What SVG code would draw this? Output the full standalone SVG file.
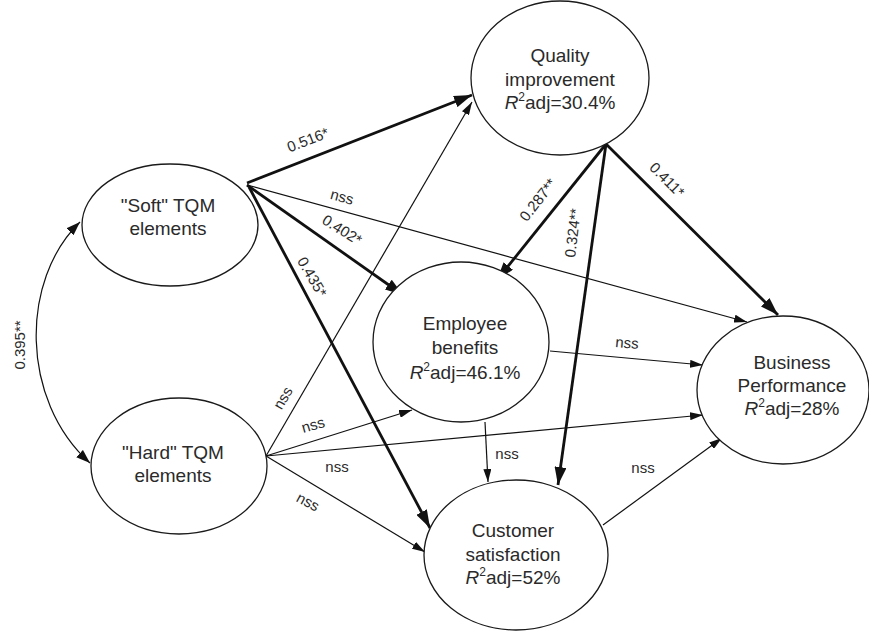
<svg xmlns="http://www.w3.org/2000/svg" width="869" height="631" viewBox="0 0 869 631">
<style>
.node ellipse{fill:#fff;stroke:#1a1a1a;stroke-width:1.3}
.node text{font-family:"Liberation Sans",Arial,sans-serif;font-size:19px;fill:#2a2a2a;text-anchor:middle}
.thick{stroke:#111;stroke-width:2.8;fill:none}
.thin{stroke:#111;stroke-width:1.2;fill:none}
.lbl{font-family:"Liberation Sans",Arial,sans-serif;font-size:15px;fill:#2a2a2a;text-anchor:middle}
</style>
<defs>
<marker id="ah" markerUnits="userSpaceOnUse" markerWidth="18" markerHeight="12" refX="18" refY="6" orient="auto"><path d="M0,0 L18,6 L0,12 z" fill="#111"/></marker>
<marker id="at" markerUnits="userSpaceOnUse" markerWidth="13" markerHeight="8" refX="13" refY="4" orient="auto"><path d="M0,0 L13,4 L0,8 z" fill="#111"/></marker>
<marker id="at2" markerUnits="userSpaceOnUse" markerWidth="14" markerHeight="10" refX="14" refY="5" orient="auto-start-reverse"><path d="M0,0 L14,5 L0,10 z" fill="#111"/></marker>
</defs>
<rect width="869" height="631" fill="#fff"/>
<g id="connectors">
<path class="thin" d="M266,456 L472,102" marker-end="url(#at)"/>
<path class="thin" d="M247,185 L747,322" marker-end="url(#at)"/>
<path class="thin" d="M550,351 L703,365" marker-end="url(#at)"/>
<path class="thin" d="M485,422 L488,482" marker-end="url(#at)"/>
<path class="thin" d="M266,456 L412,410" marker-end="url(#at)"/>
<path class="thin" d="M266,456 L703,415" marker-end="url(#at)"/>
<path class="thin" d="M266,456 L425,552" marker-end="url(#at)"/>
<path class="thin" d="M603,525 L722,438" marker-end="url(#at)"/>
<path class="thin" d="M80,222 C20,280 20,400 90,463" marker-start="url(#at2)" marker-end="url(#at2)"/>
<path class="thick" d="M247,183 L472,95" marker-end="url(#ah)"/>
<path class="thick" d="M247,185 L403,295" marker-end="url(#ah)"/>
<path class="thick" d="M249,187 L430,528" marker-end="url(#ah)"/>
<path class="thick" d="M606,144 L497,280" marker-end="url(#ah)"/>
<path class="thick" d="M606,144 L558,485" marker-end="url(#ah)"/>
<path class="thick" d="M606,144 L778,315" marker-end="url(#ah)"/>
<text class="lbl" transform="translate(20,345) rotate(-90)" y="5">0.395**</text>
<text class="lbl" transform="translate(308,140) rotate(-21)" y="5">0.516*</text>
<text class="lbl" transform="translate(342,197) rotate(15)" y="5">nss</text>
<text class="lbl" transform="translate(342,230) rotate(32)" y="5">0.402*</text>
<text class="lbl" transform="translate(312,277) rotate(60)" y="5">0.435*</text>
<text class="lbl" transform="translate(538,200) rotate(-52)" y="5">0.287**</text>
<text class="lbl" transform="translate(573,233) rotate(-83)" y="5">0.324**</text>
<text class="lbl" transform="translate(667,180) rotate(45)" y="5">0.411*</text>
<text class="lbl" transform="translate(283,398) rotate(-60)" y="5">nss</text>
<text class="lbl" transform="translate(313,425) rotate(-16)" y="5">nss</text>
<text class="lbl" x="337" y="472">nss</text>
<text class="lbl" transform="translate(308,502) rotate(28)" y="5">nss</text>
<text class="lbl" x="507" y="459">nss</text>
<text class="lbl" transform="translate(627,343) rotate(5)" y="5">nss</text>
<text class="lbl" x="643" y="473">nss</text>
</g>
<g id="soft" class="node">
<ellipse cx="170" cy="225" rx="88" ry="61"/>
<text x="168" y="212">"Soft" TQM</text>
<text x="168" y="235">elements</text>
</g>
<g id="hard" class="node">
<ellipse cx="179" cy="466" rx="88" ry="68"/>
<text x="173" y="459">"Hard" TQM</text>
<text x="173" y="482">elements</text>
</g>
<g id="quality" class="node">
<ellipse cx="560" cy="78" rx="89" ry="77"/>
<text x="560" y="62">Quality</text>
<text x="560" y="86">improvement</text>
<text x="560" y="109"><tspan font-style="italic">R</tspan><tspan font-size="12" dy="-8">2</tspan><tspan dy="8">adj=30.4%</tspan></text>
</g>
<g id="employee" class="node">
<ellipse cx="461" cy="342" rx="88" ry="80"/>
<text x="465" y="330">Employee</text>
<text x="465" y="354">benefits</text>
<text x="465" y="379"><tspan font-style="italic">R</tspan><tspan font-size="12" dy="-8">2</tspan><tspan dy="8">adj=46.1%</tspan></text>
</g>
<g id="customer" class="node">
<ellipse cx="516" cy="555" rx="92" ry="75"/>
<text x="513" y="537">Customer</text>
<text x="513" y="561">satisfaction</text>
<text x="513" y="584"><tspan font-style="italic">R</tspan><tspan font-size="12" dy="-8">2</tspan><tspan dy="8">adj=52%</tspan></text>
</g>
<g id="business" class="node">
<ellipse cx="783" cy="390" rx="86" ry="74"/>
<text x="792" y="369">Business</text>
<text x="792" y="392">Performance</text>
<text x="792" y="415"><tspan font-style="italic">R</tspan><tspan font-size="12" dy="-8">2</tspan><tspan dy="8">adj=28%</tspan></text>
</g>
</svg>
